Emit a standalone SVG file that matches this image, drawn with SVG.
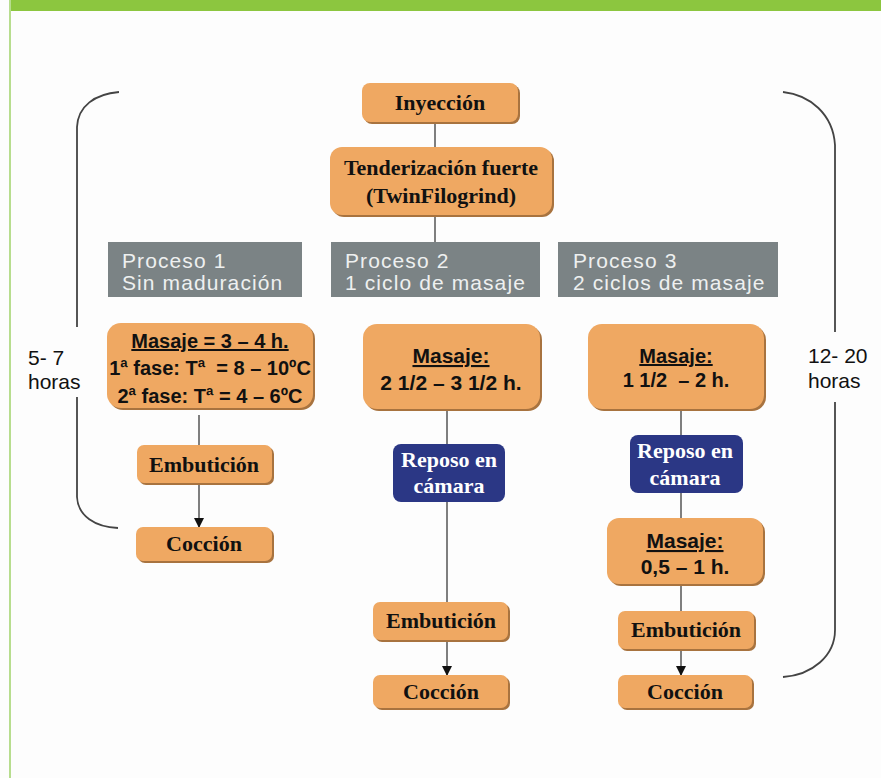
<svg xmlns="http://www.w3.org/2000/svg" width="881" height="778" viewBox="0 0 881 778">
<style>
.o{fill:#efa862}
.sh{fill:#a8733f}
.g{fill:#7b8385}
.b{fill:#2b3785}
.sf{font-family:"Liberation Serif","Times New Roman",serif;font-weight:bold;font-size:22px;fill:#111;text-anchor:middle}
.sfw{font-family:"Liberation Serif","Times New Roman",serif;font-weight:bold;font-size:22px;fill:#fff;text-anchor:middle}
.ab{font-family:"Liberation Sans",Arial,sans-serif;font-weight:bold;fill:#111;text-anchor:middle}
.gt{font-family:"Liberation Sans",Arial,sans-serif;font-size:21px;letter-spacing:1.1px;fill:#eef0f0}
.lt{font-family:"Liberation Sans",Arial,sans-serif;font-size:21px;fill:#111}
.c{stroke:#555;stroke-width:1.5;fill:none}
.br{stroke:#444;stroke-width:1.8;fill:none}
</style>
<defs>
<marker id="ar" markerWidth="10" markerHeight="10" refX="9" refY="5" orient="auto" markerUnits="userSpaceOnUse">
<path d="M0,0 L10,5 L0,10 Z" fill="#111"/>
</marker>
</defs>
<rect width="881" height="778" fill="#fdfdfd"/>
<rect x="9" y="0" width="872" height="11" fill="#8cc63f"/>
<rect x="9" y="0" width="2" height="778" fill="#b7dd8e"/>

<g id="connectors">
<line class="c" x1="435" y1="122" x2="435" y2="147"/>
<line class="c" x1="435" y1="215" x2="435" y2="242"/>
<line class="c" x1="199" y1="415" x2="199" y2="445"/>
<line class="c" x1="199" y1="483" x2="199" y2="527" marker-end="url(#ar)"/>
<line class="c" x1="447" y1="409" x2="447" y2="444"/>
<line class="c" x1="447" y1="502" x2="447" y2="602"/>
<line class="c" x1="447" y1="640" x2="447" y2="675" marker-end="url(#ar)"/>
<line class="c" x1="681" y1="409" x2="681" y2="435"/>
<line class="c" x1="681" y1="493" x2="681" y2="518"/>
<line class="c" x1="681" y1="584" x2="681" y2="611"/>
<line class="c" x1="681" y1="649" x2="681" y2="675" marker-end="url(#ar)"/>
</g>

<g id="bracket-left">
<path class="br" d="M119,92 C95,94 78,106 77,127 L77,327"/>
<path class="br" d="M77,397 L77,497 C78,516 95,527 118,528"/>
<text class="lt" x="28" y="365">5- 7</text>
<text class="lt" x="28" y="389">horas</text>
</g>
<g id="bracket-right">
<path class="br" d="M783,92 C810,95 833,114 835,145 L835,332"/>
<path class="br" d="M835,402 L835,630 C835,656 812,675 783,677"/>
<text class="lt" x="808" y="363">12- 20</text>
<text class="lt" x="808" y="388">horas</text>
</g>

<g id="inyeccion">
<rect class="sh" x="364" y="85" width="156" height="39" rx="8"/>
<rect class="o" x="362" y="83" width="156" height="39" rx="8"/>
<text class="sf" x="440" y="110">Inyección</text>
</g>
<g id="tenderizacion">
<rect class="sh" x="332" y="149" width="222" height="68" rx="12"/>
<rect class="o" x="330" y="147" width="222" height="68" rx="12"/>
<text class="sf" x="441" y="175">Tenderización fuerte</text>
<text class="sf" x="441" y="203">(TwinFilogrind)</text>
</g>

<g id="proceso1">
<rect class="g" x="108" y="242" width="194" height="55"/>
<text class="gt" x="122" y="268">Proceso 1</text>
<text class="gt" x="122" y="290">Sin maduración</text>
</g>
<g id="proceso2">
<rect class="g" x="331" y="242" width="209" height="55"/>
<text class="gt" x="345" y="268">Proceso 2</text>
<text class="gt" x="345" y="290">1 ciclo de masaje</text>
</g>
<g id="proceso3">
<rect class="g" x="558" y="242" width="220" height="55"/>
<text class="gt" x="573" y="268">Proceso 3</text>
<text class="gt" x="573" y="290">2 ciclos de masaje</text>
</g>

<g id="masaje1">
<rect class="sh" x="109" y="325" width="206" height="85" rx="14"/>
<rect class="o" x="107" y="323" width="206" height="85" rx="14"/>
<text class="ab" x="210" y="348" font-size="20" text-decoration="underline">Masaje = 3 – 4 h.</text>
<text class="ab" x="210" y="375" font-size="20" xml:space="preserve">1ª fase: Tª  = 8 – 10ºC</text>
<text class="ab" x="210" y="403" font-size="20">2ª fase: Tª = 4 – 6ºC</text>
</g>
<g id="embuticion1">
<rect class="sh" x="139" y="447" width="135" height="38" rx="7"/>
<rect class="o" x="137" y="445" width="135" height="38" rx="7"/>
<text class="sf" x="204" y="472">Embutición</text>
</g>
<g id="coccion1">
<rect class="sh" x="138" y="529" width="136" height="34" rx="7"/>
<rect class="o" x="136" y="527" width="136" height="34" rx="7"/>
<text class="sf" x="204" y="551">Cocción</text>
</g>

<g id="masaje2">
<rect class="sh" x="365" y="326" width="177" height="85" rx="14"/>
<rect class="o" x="363" y="324" width="177" height="85" rx="14"/>
<text class="ab" x="451" y="363" font-size="21" text-decoration="underline">Masaje:</text>
<text class="ab" x="451" y="390" font-size="21">2 1/2 – 3 1/2 h.</text>
</g>
<g id="reposo2">
<rect class="b" x="393" y="444" width="112" height="58" rx="8"/>
<text class="sfw" x="449" y="467">Reposo en</text>
<text class="sfw" x="449" y="493">cámara</text>
</g>
<g id="embuticion2">
<rect class="sh" x="375" y="604" width="135" height="38" rx="7"/>
<rect class="o" x="373" y="602" width="135" height="38" rx="7"/>
<text class="sf" x="441" y="628">Embutición</text>
</g>
<g id="coccion2">
<rect class="sh" x="375" y="677" width="135" height="33" rx="7"/>
<rect class="o" x="373" y="675" width="135" height="33" rx="7"/>
<text class="sf" x="441" y="699">Cocción</text>
</g>

<g id="masaje3">
<rect class="sh" x="590" y="326" width="176" height="85" rx="14"/>
<rect class="o" x="588" y="324" width="176" height="85" rx="14"/>
<text class="ab" x="676" y="363" font-size="20" text-decoration="underline">Masaje:</text>
<text class="ab" x="676" y="387" font-size="20" xml:space="preserve">1 1/2  – 2 h.</text>
</g>
<g id="reposo3">
<rect class="b" x="630" y="435" width="113" height="58" rx="8"/>
<text class="sfw" x="685" y="458">Reposo en</text>
<text class="sfw" x="685" y="485">cámara</text>
</g>
<g id="masaje3b">
<rect class="sh" x="609" y="520" width="156" height="66" rx="12"/>
<rect class="o" x="607" y="518" width="156" height="66" rx="12"/>
<text class="ab" x="685" y="548" font-size="21" text-decoration="underline">Masaje:</text>
<text class="ab" x="685" y="574" font-size="21">0,5 – 1 h.</text>
</g>
<g id="embuticion3">
<rect class="sh" x="620" y="613" width="136" height="38" rx="7"/>
<rect class="o" x="618" y="611" width="136" height="38" rx="7"/>
<text class="sf" x="686" y="637">Embutición</text>
</g>
<g id="coccion3">
<rect class="sh" x="620" y="677" width="134" height="33" rx="7"/>
<rect class="o" x="618" y="675" width="134" height="33" rx="7"/>
<text class="sf" x="685" y="699">Cocción</text>
</g>
</svg>
